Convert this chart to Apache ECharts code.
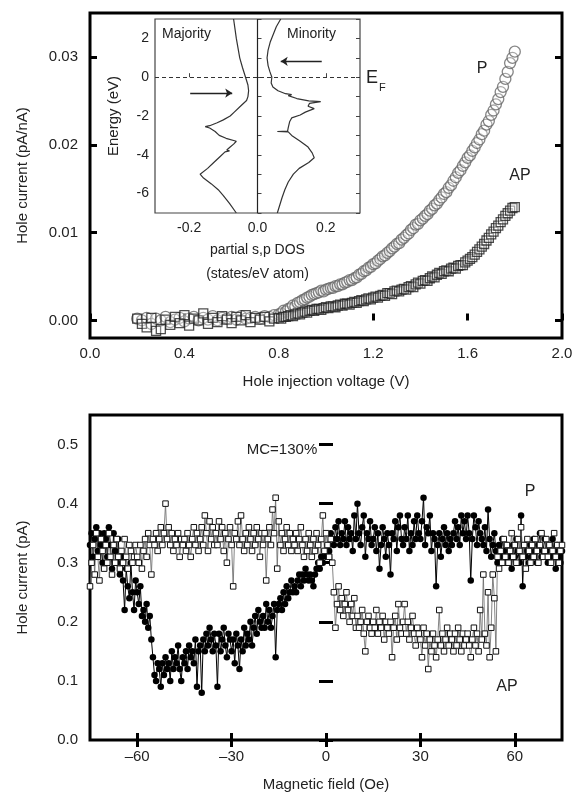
<!DOCTYPE html>
<html><head><meta charset="utf-8">
<script src="https://cdn.jsdelivr.net/npm/echarts@6/dist/echarts.min.js"></script>
<style>html,body{margin:0;padding:0;background:#fff}#c{width:577px;height:795px}</style>
</head><body><div id="c"></div>
<script>
// ---------- Top panel: hole current vs injection voltage ----------
const voltage = [
0.20,0.22,0.24,0.26,0.28,0.30,0.32,0.34,0.36,0.38,
0.40,0.42,0.44,0.46,0.48,0.50,0.52,0.54,0.56,0.58,
0.60,0.62,0.64,0.66,0.68,0.70,0.72,0.74,0.76,0.78,
0.80,0.81,0.82,0.83,0.84,0.85,0.86,0.87,0.88,0.89,
0.90,0.91,0.92,0.93,0.94,0.95,0.96,0.97,0.98,0.99,
1.00,1.01,1.02,1.03,1.04,1.05,1.06,1.07,1.08,1.09,
1.10,1.11,1.12,1.13,1.14,1.15,1.16,1.17,1.18,1.19,
1.20,1.21,1.22,1.23,1.24,1.25,1.26,1.27,1.28,1.29,
1.30,1.31,1.32,1.33,1.34,1.35,1.36,1.37,1.38,1.39,
1.40,1.41,1.42,1.43,1.44,1.45,1.46,1.47,1.48,1.49,
1.50,1.51,1.52,1.53,1.54,1.55,1.56,1.57,1.58,1.59,
1.60,1.61,1.62,1.63,1.64,1.65,1.66,1.67,1.68,1.69,
1.70,1.71,1.72,1.73,1.74,1.75,1.76,1.77,1.78,1.79,
1.80];
const currentP = [
0.0002,0.0000,0.0003,-0.0004,0.0002,0.0000,0.0004,-0.0002,0.0001,0.0003,
-0.0001,0.0002,0.0004,0.0000,0.0003,0.0001,0.0005,0.0000,0.0003,0.0002,
0.0004,0.0001,0.0005,0.0002,0.0003,0.0004,0.0002,0.0005,0.0004,0.0006,
0.0007,0.0008,0.0011,0.0010,0.0013,0.0014,0.0017,0.0016,0.0020,0.0021,
0.0023,0.0024,0.0026,0.0027,0.0029,0.0030,0.0031,0.0032,0.0034,0.0033,
0.0035,0.0036,0.0037,0.0037,0.0039,0.0039,0.0041,0.0041,0.0043,0.0044,
0.0046,0.0046,0.0048,0.0049,0.0052,0.0053,0.0056,0.0057,0.0060,0.0061,
0.0064,0.0065,0.0068,0.0070,0.0073,0.0074,0.0077,0.0079,0.0082,0.0084,
0.0087,0.0088,0.0092,0.0094,0.0097,0.0099,0.0103,0.0105,0.0109,0.0110,
0.0114,0.0116,0.0119,0.0121,0.0125,0.0127,0.0131,0.0133,0.0137,0.0140,
0.0144,0.0146,0.0151,0.0154,0.0159,0.0163,0.0168,0.0171,0.0176,0.0180,
0.0185,0.0188,0.0193,0.0197,0.0202,0.0206,0.0212,0.0216,0.0223,0.0227,
0.0234,0.0239,0.0246,0.0252,0.0260,0.0266,0.0275,0.0283,0.0293,0.0299,
0.0306];
const currentAP = [
0.0002,-0.0004,-0.0008,0.0003,-0.0012,-0.0010,0.0001,-0.0005,0.0004,-0.0003,
0.0006,-0.0006,0.0002,0.0000,0.0008,-0.0004,0.0003,-0.0002,0.0005,0.0001,
-0.0003,0.0004,0.0000,0.0006,-0.0002,0.0003,0.0001,0.0004,-0.0001,0.0002,
0.0003,0.0002,0.0004,0.0004,0.0005,0.0006,0.0005,0.0007,0.0008,0.0007,
0.0009,0.0010,0.0009,0.0011,0.0012,0.0011,0.0013,0.0013,0.0012,0.0014,
0.0015,0.0014,0.0016,0.0016,0.0015,0.0017,0.0018,0.0017,0.0019,0.0019,
0.0018,0.0020,0.0021,0.0020,0.0022,0.0023,0.0022,0.0024,0.0025,0.0024,
0.0026,0.0027,0.0026,0.0028,0.0029,0.0028,0.0031,0.0031,0.0030,0.0033,
0.0034,0.0033,0.0035,0.0036,0.0035,0.0038,0.0039,0.0038,0.0041,0.0043,
0.0042,0.0045,0.0046,0.0045,0.0048,0.0050,0.0049,0.0052,0.0054,0.0053,
0.0056,0.0057,0.0056,0.0059,0.0060,0.0059,0.0062,0.0063,0.0063,0.0066,
0.0068,0.0070,0.0072,0.0075,0.0078,0.0081,0.0084,0.0087,0.0091,0.0094,
0.0098,0.0101,0.0105,0.0108,0.0112,0.0115,0.0119,0.0122,0.0125,0.0128,
0.0129];
const topYTicks = [0, 0.01, 0.02, 0.03];

// ---------- Inset: partial s,p DOS ----------
const dosMajE = [3.0,2.5,2.0,1.5,1.0,0.5,0.0,-0.4,-0.7,-1.0,-1.2,-1.5,-1.8,-2.0,-2.2,-2.35,-2.5,-2.55,-2.62,-2.8,-3.0,-3.15,-3.3,-3.45,-3.6,-3.75,-3.8,-3.85,-4.1,-4.4,-4.7,-5.0,-5.2,-5.5,-5.8,-6.1,-6.5,-7.0];
const dosMajX = [-0.070,-0.066,-0.062,-0.057,-0.052,-0.044,-0.035,-0.028,-0.026,-0.028,-0.032,-0.050,-0.068,-0.080,-0.100,-0.118,-0.140,-0.153,-0.140,-0.124,-0.112,-0.092,-0.062,-0.070,-0.080,-0.090,-0.082,-0.095,-0.110,-0.128,-0.146,-0.168,-0.158,-0.135,-0.115,-0.100,-0.082,-0.062];
const dosMinE = [3.0,2.6,2.2,1.8,1.4,1.0,0.6,0.3,0.0,-0.3,-0.5,-0.7,-0.85,-0.9,-0.95,-1.1,-1.22,-1.26,-1.35,-1.5,-1.62,-1.8,-1.95,-2.1,-2.3,-2.6,-2.78,-2.8,-2.82,-3.0,-3.3,-3.6,-3.9,-4.15,-4.4,-4.7,-5.0,-5.4,-5.8,-6.2,-6.6,-7.0];
const dosMinX = [0.068,0.055,0.046,0.037,0.031,0.028,0.031,0.036,0.042,0.040,0.045,0.060,0.082,0.100,0.090,0.115,0.150,0.185,0.152,0.148,0.166,0.140,0.125,0.100,0.094,0.090,0.088,0.058,0.090,0.100,0.125,0.148,0.160,0.166,0.150,0.122,0.105,0.090,0.080,0.072,0.065,0.058];
const insetXTicks = [-0.2, 0, 0.2];
const insetYLabels = [2, 0, -2, -4, -6];
const arrowMaj = [[-0.197, -0.82], [-0.074, -0.82]];
const arrowMin = [[0.188, 0.82], [0.068, 0.82]];

// ---------- Bottom panel: hole current vs magnetic field ----------
const fieldOe = [
-75,-74.5,-74,-73.5,-73,-72.5,-72,-71.5,-71,-70.5,
-70,-69.5,-69,-68.5,-68,-67.5,-67,-66.5,-66,-65.5,
-65,-64.5,-64,-63.5,-63,-62.5,-62,-61.5,-61,-60.5,
-60,-59.5,-59,-58.5,-58,-57.5,-57,-56.5,-56,-55.5,
-55,-54.5,-54,-53.5,-53,-52.5,-52,-51.5,-51,-50.5,
-50,-49.5,-49,-48.5,-48,-47.5,-47,-46.5,-46,-45.5,
-45,-44.5,-44,-43.5,-43,-42.5,-42,-41.5,-41,-40.5,
-40,-39.5,-39,-38.5,-38,-37.5,-37,-36.5,-36,-35.5,
-35,-34.5,-34,-33.5,-33,-32.5,-32,-31.5,-31,-30.5,
-30,-29.5,-29,-28.5,-28,-27.5,-27,-26.5,-26,-25.5,
-25,-24.5,-24,-23.5,-23,-22.5,-22,-21.5,-21,-20.5,
-20,-19.5,-19,-18.5,-18,-17.5,-17,-16.5,-16,-15.5,
-15,-14.5,-14,-13.5,-13,-12.5,-12,-11.5,-11,-10.5,
-10,-9.5,-9,-8.5,-8,-7.5,-7,-6.5,-6,-5.5,
-5,-4.5,-4,-3.5,-3,-2.5,-2,-1.5,-1,-0.5,
0,0.5,1,1.5,2,2.5,3,3.5,4,4.5,
5,5.5,6,6.5,7,7.5,8,8.5,9,9.5,
10,10.5,11,11.5,12,12.5,13,13.5,14,14.5,
15,15.5,16,16.5,17,17.5,18,18.5,19,19.5,
20,20.5,21,21.5,22,22.5,23,23.5,24,24.5,
25,25.5,26,26.5,27,27.5,28,28.5,29,29.5,
30,30.5,31,31.5,32,32.5,33,33.5,34,34.5,
35,35.5,36,36.5,37,37.5,38,38.5,39,39.5,
40,40.5,41,41.5,42,42.5,43,43.5,44,44.5,
45,45.5,46,46.5,47,47.5,48,48.5,49,49.5,
50,50.5,51,51.5,52,52.5,53,53.5,54,54.5,
55,55.5,56,56.5,57,57.5,58,58.5,59,59.5,
60,60.5,61,61.5,62,62.5,63,63.5,64,64.5,
65,65.5,66,66.5,67,67.5,68,68.5,69,69.5,
70,70.5,71,71.5,72,72.5,73,73.5,74,74.5,
75];
const currentFilled = [
0.33,0.35,0.31,0.34,0.36,0.32,0.35,0.33,0.30,0.35,
0.34,0.31,0.36,0.33,0.29,0.35,0.32,0.30,0.34,0.28,
0.31,0.27,0.22,0.29,0.26,0.24,0.30,0.25,0.22,0.27,
0.25,0.23,0.26,0.21,0.22,0.20,0.23,0.19,0.21,0.17,
0.14,0.11,0.10,0.13,0.12,0.09,0.13,0.11,0.14,0.12,
0.13,0.10,0.15,0.12,0.14,0.13,0.16,0.12,0.10,0.14,
0.13,0.15,0.12,0.16,0.14,0.15,0.13,0.17,0.09,0.15,
0.16,0.08,0.17,0.15,0.18,0.16,0.19,0.17,0.15,0.18,
0.16,0.09,0.18,0.15,0.17,0.19,0.16,0.14,0.18,0.17,
0.15,0.17,0.13,0.18,0.16,0.12,0.17,0.15,0.19,0.16,
0.18,0.17,0.20,0.16,0.19,0.21,0.18,0.22,0.20,0.19,
0.21,0.19,0.23,0.20,0.22,0.19,0.21,0.23,0.14,0.22,
0.23,0.24,0.22,0.25,0.23,0.26,0.24,0.25,0.27,0.25,
0.26,0.25,0.27,0.28,0.26,0.28,0.27,0.29,0.28,0.27,
0.28,0.27,0.26,0.28,0.29,0.30,0.29,0.31,0.30,0.32,
0.31,0.33,0.32,0.35,0.34,0.33,0.36,0.34,0.37,0.33,
0.35,0.34,0.37,0.33,0.36,0.34,0.35,0.32,0.38,0.34,
0.40,0.35,0.33,0.36,0.38,0.31,0.35,0.34,0.37,0.33,
0.34,0.36,0.32,0.35,0.29,0.33,0.36,0.34,0.31,0.35,
0.33,0.28,0.35,0.34,0.37,0.32,0.36,0.38,0.34,0.33,
0.36,0.34,0.38,0.32,0.35,0.33,0.37,0.34,0.38,0.35,
0.34,0.37,0.41,0.33,0.36,0.35,0.38,0.32,0.35,0.34,
0.26,0.33,0.35,0.31,0.34,0.36,0.33,0.35,0.32,0.34,
0.33,0.35,0.37,0.34,0.36,0.33,0.38,0.35,0.37,0.34,
0.38,0.35,0.27,0.34,0.38,0.36,0.33,0.37,0.35,0.34,
0.33,0.36,0.32,0.39,0.34,0.31,0.33,0.35,0.32,0.30,
0.33,0.31,0.34,0.32,0.30,0.33,0.31,0.32,0.29,0.33,
0.31,0.34,0.32,0.30,0.38,0.26,0.33,0.31,0.32,0.30,
0.33,0.31,0.34,0.32,0.30,0.33,0.35,0.31,0.32,0.34,
0.32,0.30,0.33,0.31,0.34,0.32,0.29,0.33,0.31,0.30,
0.32];
const currentOpen = [
0.26,0.30,0.33,0.28,0.35,0.31,0.27,0.34,0.32,0.29,
0.33,0.30,0.35,0.31,0.28,0.33,0.30,0.34,0.31,0.29,
0.32,0.30,0.34,0.31,0.29,0.33,0.32,0.30,0.31,0.33,
0.31,0.30,0.33,0.29,0.32,0.34,0.31,0.35,0.33,0.28,
0.34,0.33,0.35,0.32,0.34,0.36,0.33,0.35,0.40,0.34,
0.36,0.33,0.35,0.32,0.34,0.33,0.35,0.31,0.34,0.33,
0.34,0.32,0.35,0.33,0.31,0.34,0.36,0.33,0.35,0.32,
0.34,0.36,0.33,0.38,0.35,0.32,0.37,0.34,0.36,0.33,
0.35,0.33,0.37,0.34,0.36,0.32,0.35,0.30,0.34,0.36,
0.33,0.26,0.35,0.34,0.37,0.33,0.38,0.34,0.32,0.35,
0.33,0.36,0.34,0.32,0.35,0.33,0.36,0.34,0.31,0.35,
0.33,0.35,0.27,0.34,0.36,0.33,0.39,0.35,0.41,0.29,
0.37,0.33,0.35,0.32,0.34,0.36,0.33,0.35,0.32,0.34,
0.33,0.35,0.32,0.34,0.36,0.33,0.31,0.34,0.32,0.35,
0.33,0.31,0.34,0.32,0.35,0.33,0.30,0.34,0.38,0.32,
0.35,0.33,0.31,0.34,0.30,0.25,0.19,0.23,0.26,0.22,
0.24,0.21,0.23,0.25,0.22,0.20,0.23,0.21,0.24,0.19,
0.21,0.19,0.20,0.22,0.18,0.15,0.20,0.21,0.19,0.18,
0.20,0.19,0.22,0.18,0.20,0.19,0.21,0.17,0.20,0.19,
0.18,0.20,0.14,0.19,0.21,0.17,0.23,0.19,0.18,0.20,
0.23,0.18,0.20,0.17,0.19,0.21,0.18,0.16,0.19,0.18,
0.17,0.14,0.19,0.16,0.18,0.12,0.17,0.15,0.18,0.16,
0.14,0.17,0.22,0.16,0.18,0.15,0.17,0.19,0.16,0.18,
0.17,0.15,0.18,0.16,0.19,0.17,0.15,0.18,0.16,0.17,
0.18,0.16,0.14,0.17,0.19,0.16,0.18,0.15,0.22,0.17,
0.28,0.18,0.16,0.25,0.14,0.19,0.28,0.24,0.15,0.31,
0.29,0.32,0.30,0.34,0.31,0.33,0.30,0.32,0.35,0.31,
0.33,0.30,0.34,0.32,0.36,0.31,0.33,0.29,0.34,0.32,
0.30,0.33,0.31,0.34,0.32,0.30,0.33,0.35,0.31,0.32,
0.34,0.31,0.33,0.30,0.32,0.35,0.31,0.33,0.30,0.32,
0.33];
const bottomXTicks = [-60, -30, 0, 30, 60];
const bottomYTicks = [0, 0.1, 0.2, 0.3, 0.4, 0.5];

// ---------- chart ----------
const FONT = '"Liberation Sans", Arial, sans-serif';
const TXT = '#222';
const pairs = (xs, ys) => xs.map((x, i) => [x, ys[i]]);
const tickMain = {inside: true, length: 7, lineStyle: {width: 3, color: '#000'}};
const labelStyle = {fontSize: 15, color: TXT, fontFamily: FONT};
const nameStyle = {fontSize: 15, color: TXT, fontFamily: FONT};

const chart = echarts.init(document.getElementById('c'), null, {renderer: 'canvas'});
chart.setOption({
  animation: false,
  backgroundColor: '#fff',
  grid: [
    {left: 90, top: 13, width: 472, height: 325, show: true, borderColor: '#000', borderWidth: 3, backgroundColor: 'transparent'},
    {left: 155, top: 19, width: 205, height: 194, show: true, borderColor: '#444', borderWidth: 1.2, backgroundColor: '#fff'},
    {left: 90, top: 415, width: 472, height: 325, show: true, borderColor: '#000', borderWidth: 3, backgroundColor: 'transparent'}
  ],
  xAxis: [
    {gridIndex: 0, type: 'value', min: 0, max: 2, interval: 0.4,
     axisLine: {show: false}, splitLine: {show: false}, axisTick: tickMain,
     axisLabel: Object.assign({margin: 8, formatter: v => v.toFixed(1)}, labelStyle),
     name: 'Hole injection voltage (V)', nameLocation: 'middle', nameGap: 36, nameTextStyle: nameStyle},
    {gridIndex: 1, type: 'value', min: -0.3, max: 0.3,
     axisLine: {show: false}, splitLine: {show: false},
     axisTick: {inside: true, length: 4, customValues: insetXTicks, lineStyle: {color: '#444', width: 1}},
     axisLabel: {customValues: insetXTicks, margin: 8, fontSize: 14, color: TXT, fontFamily: FONT, formatter: v => (Math.abs(v) < 1e-9 ? 0 : v).toFixed(1)},
     name: 'partial s,p DOS\n(states/eV atom)', nameLocation: 'middle', nameGap: 25,
     nameTextStyle: {fontSize: 14, color: TXT, fontFamily: FONT, lineHeight: 24}},
    {gridIndex: 2, type: 'value', min: -75, max: 75,
     axisLine: {show: false}, splitLine: {show: false},
     axisTick: Object.assign({customValues: bottomXTicks}, tickMain),
     axisLabel: Object.assign({customValues: bottomXTicks, margin: 9, formatter: v => String(v).replace('-', '\u2013')}, labelStyle),
     name: 'Magnetic field (Oe)', nameLocation: 'middle', nameGap: 37, nameTextStyle: nameStyle},
    {gridIndex: 2, type: 'value', position: 'top', min: -75, max: 75,
     axisLine: {show: false}, splitLine: {show: false},
     axisTick: Object.assign({customValues: bottomXTicks}, tickMain),
     axisLabel: {show: false}}
  ],
  yAxis: [
    {gridIndex: 0, type: 'value', min: -0.002, max: 0.035,
     axisLine: {show: false}, splitLine: {show: false},
     axisTick: Object.assign({customValues: topYTicks}, tickMain),
     axisLabel: Object.assign({customValues: topYTicks, margin: 12, formatter: v => v.toFixed(2)}, labelStyle),
     name: 'Hole current (pA/nA)', nameLocation: 'middle', nameGap: 60, nameTextStyle: nameStyle},
    {gridIndex: 0, type: 'value', position: 'right', min: -0.002, max: 0.035,
     axisLine: {show: false}, splitLine: {show: false},
     axisTick: Object.assign({customValues: topYTicks}, tickMain),
     axisLabel: {show: false}},
    {gridIndex: 1, type: 'value', min: -7, max: 3, interval: 1,
     axisLine: {show: false}, splitLine: {show: false},
     axisTick: {inside: true, length: 4, lineStyle: {color: '#444', width: 1}},
     axisLabel: {customValues: insetYLabels, margin: 6, fontSize: 14, color: TXT, fontFamily: FONT},
     name: 'Energy (eV)', nameLocation: 'middle', nameGap: 34,
     nameTextStyle: {fontSize: 15, color: TXT, fontFamily: FONT}},
    {gridIndex: 1, type: 'value', position: 'right', min: -7, max: 3, interval: 1,
     axisLine: {show: false}, splitLine: {show: false},
     axisTick: {inside: true, length: 4, lineStyle: {color: '#444', width: 1}},
     axisLabel: {show: false}},
    {gridIndex: 2, type: 'value', min: 0, max: 0.55,
     axisLine: {show: false}, splitLine: {show: false},
     axisTick: Object.assign({customValues: bottomYTicks}, tickMain),
     axisLabel: Object.assign({customValues: bottomYTicks, margin: 12, formatter: v => v.toFixed(1)}, labelStyle),
     name: 'Hole current (pA)', nameLocation: 'middle', nameGap: 60, nameTextStyle: nameStyle},
    {gridIndex: 2, type: 'value', position: 'right', min: 0, max: 0.55,
     axisLine: {show: false}, splitLine: {show: false},
     axisTick: Object.assign({customValues: bottomYTicks}, tickMain),
     axisLabel: {show: false}}
  ],
  series: [
    {name: 'P', type: 'scatter', xAxisIndex: 0, yAxisIndex: 0, data: pairs(voltage, currentP),
     symbol: 'circle', symbolSize: 11,
     itemStyle: {color: 'rgba(255,255,255,0.35)', borderColor: '#666', borderWidth: 1.3}},
    {name: 'AP', type: 'scatter', xAxisIndex: 0, yAxisIndex: 0, data: pairs(voltage, currentAP),
     symbol: 'rect', symbolSize: 9,
     itemStyle: {color: 'rgba(255,255,255,0.35)', borderColor: '#222', borderWidth: 1.3}},
    {name: 'Majority', type: 'line', xAxisIndex: 1, yAxisIndex: 2, data: pairs(dosMajX, dosMajE),
     showSymbol: false, lineStyle: {color: '#333', width: 1.2},
     markLine: {silent: true, symbol: ['none', 'none'], label: {show: false},
       data: [{xAxis: 0, lineStyle: {type: 'solid', color: '#222', width: 1.2}},
              {yAxis: 0, lineStyle: {type: [4, 3], color: '#333', width: 1.2}}]}},
    {name: 'Minority', type: 'line', xAxisIndex: 1, yAxisIndex: 2, data: pairs(dosMinX, dosMinE),
     showSymbol: false, lineStyle: {color: '#333', width: 1.2},
     markLine: {silent: true, symbol: ['none', 'arrow'], symbolSize: 7, label: {show: false},
       lineStyle: {type: 'solid', color: '#222', width: 1.3},
       data: [[{coord: arrowMaj[0]}, {coord: arrowMaj[1]}], [{coord: arrowMin[0]}, {coord: arrowMin[1]}]]}},
    {name: 'sweep filled', type: 'line', xAxisIndex: 2, yAxisIndex: 4, data: pairs(fieldOe, currentFilled),
     symbol: 'circle', symbolSize: 6.5, showSymbol: true, showAllSymbol: true,
     itemStyle: {color: '#000'}, lineStyle: {color: '#000', width: 1}},
    {name: 'sweep open', type: 'line', xAxisIndex: 2, yAxisIndex: 4, data: pairs(fieldOe, currentOpen),
     symbol: 'rect', symbolSize: 5.5, showSymbol: true, showAllSymbol: true,
     itemStyle: {color: '#fff', borderColor: '#111', borderWidth: 1}, lineStyle: {color: '#666', width: 0.8}}
  ],
  graphic: [
    {type: 'text', x: 482, y: 69, style: {text: 'P', font: '16px ' + FONT, fill: TXT, textAlign: 'center', textVerticalAlign: 'middle'}},
    {type: 'text', x: 520, y: 176, style: {text: 'AP', font: '16px ' + FONT, fill: TXT, textAlign: 'center', textVerticalAlign: 'middle'}},
    {type: 'text', x: 366, y: 78, style: {text: 'E', font: '18px ' + FONT, fill: TXT, textAlign: 'left', textVerticalAlign: 'middle'}},
    {type: 'text', x: 379, y: 88, style: {text: 'F', font: '11px ' + FONT, fill: TXT, textAlign: 'left', textVerticalAlign: 'middle'}},
    {type: 'text', x: 162, y: 34, style: {text: 'Majority', font: '14px ' + FONT, fill: TXT, textAlign: 'left', textVerticalAlign: 'middle'}},
    {type: 'text', x: 287, y: 34, style: {text: 'Minority', font: '14px ' + FONT, fill: TXT, textAlign: 'left', textVerticalAlign: 'middle'}},
    {type: 'text', x: 282, y: 450, style: {text: 'MC=130%', font: '15px ' + FONT, fill: TXT, textAlign: 'center', textVerticalAlign: 'middle'}},
    {type: 'text', x: 530, y: 492, style: {text: 'P', font: '16px ' + FONT, fill: TXT, textAlign: 'center', textVerticalAlign: 'middle'}},
    {type: 'text', x: 507, y: 687, style: {text: 'AP', font: '16px ' + FONT, fill: TXT, textAlign: 'center', textVerticalAlign: 'middle'}}
  ]
});
</script></body></html>
